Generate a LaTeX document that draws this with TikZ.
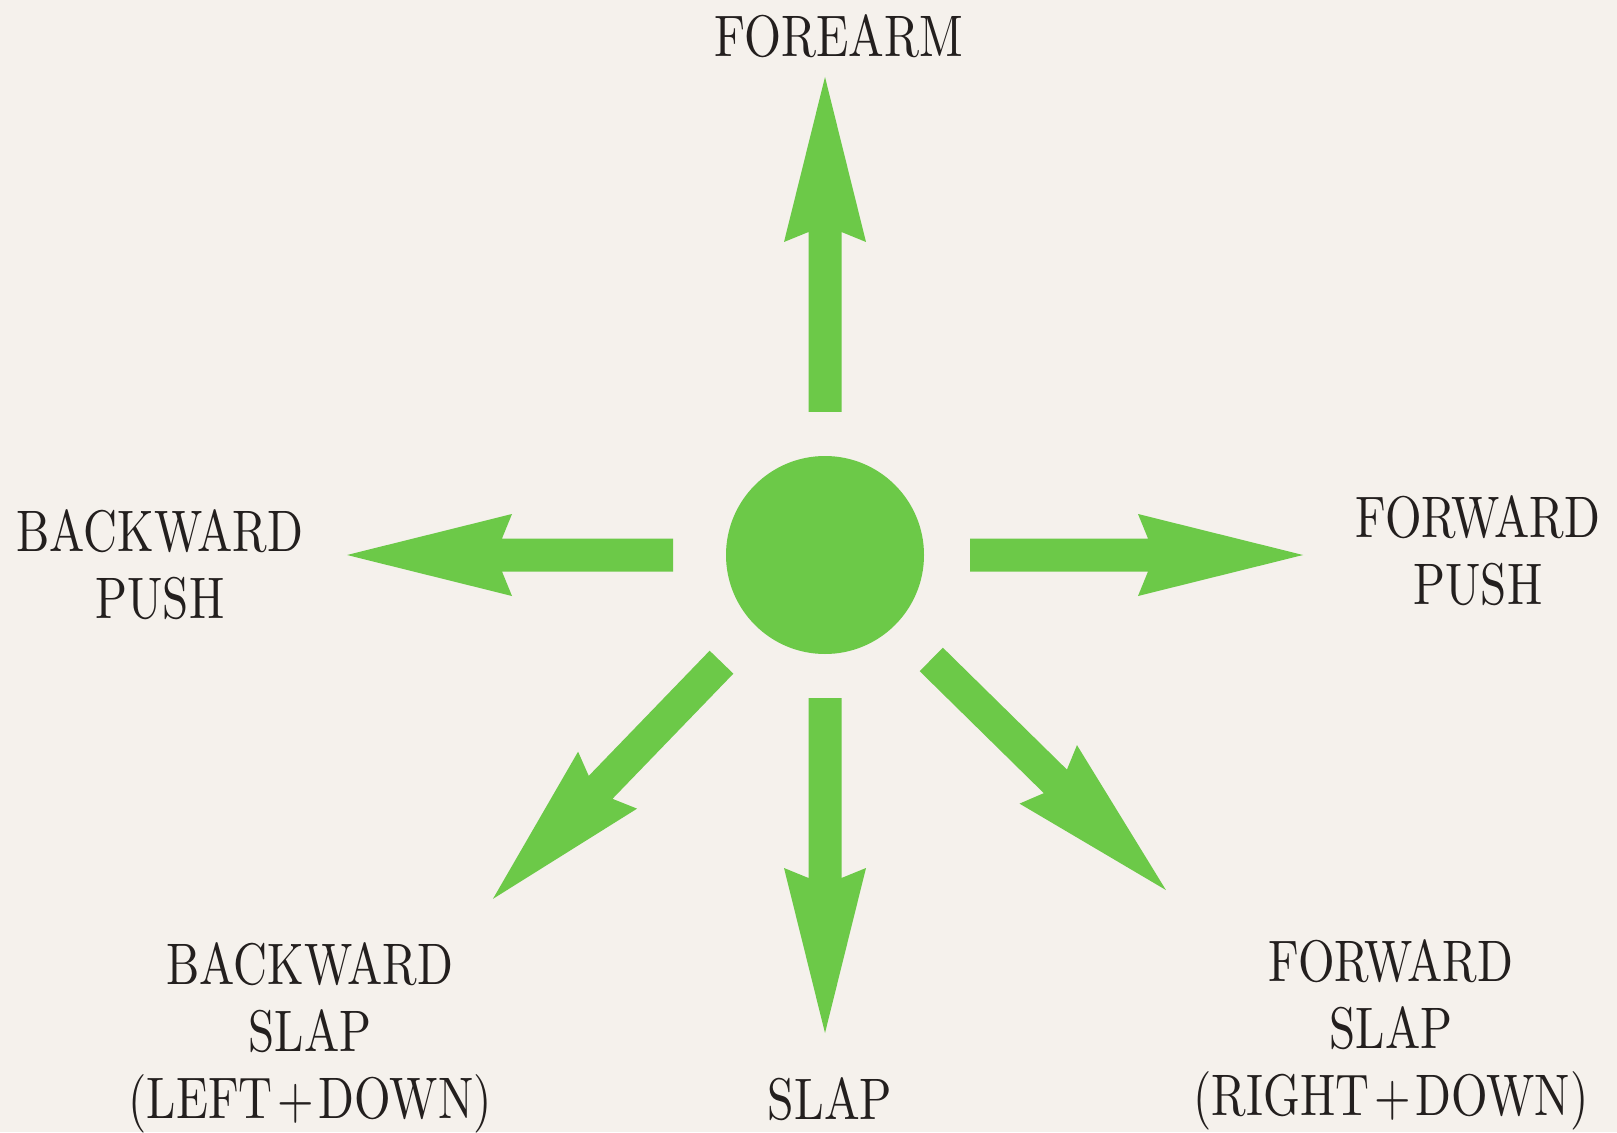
\documentclass[tikz,border=0pt]{standalone}
\usepackage{graphicx}
\definecolor{paper}{RGB}{245,241,236}
\definecolor{leaf}{RGB}{108,201,72}
\definecolor{ink}{RGB}{35,31,30}
\newcommand\lbltext[1]{\scalebox{2.35}[2.93]{\fontsize{10pt}{11.43pt}\selectfont\begin{tabular}[b]{@{}c@{}}#1\end{tabular}}}
\newcommand\onelbl[1]{\scalebox{2.38}[2.93]{\fontsize{10pt}{11.43pt}\selectfont #1}}
\newcommand\greenarrow[2]{%
  \begin{scope}[shift={(hub.center)}, rotate=#1]
    \fill[leaf] (#2,-16.5) -- (323,-16.5) -- (313,-41) -- (478,0) -- (313,41) -- (323,16.5) -- (#2,16.5) -- cycle;
  \end{scope}}
\begin{document}
\begin{tikzpicture}[x=0.5pt,y=0.5pt,
  lbl/.style={text=ink, inner sep=0pt, anchor=base}]
\fill[paper] (0,0) rectangle (1617,1132);
\useasboundingbox (0,0) rectangle (1617,1132);
\node[circle, fill=leaf, minimum size=99pt, inner sep=0pt] (hub) at (825,577) {};
\greenarrow{90}{143}
\greenarrow{0}{145}
\greenarrow{270}{143}
\greenarrow{180}{152}
\greenarrow{-44.5}{149}
\greenarrow{-134}{149}
\node[lbl] (forearm) at (839,1075) {\onelbl{FOREARM}};
\node[lbl] (bpush) at (160,514) {\lbltext{BACKWARD\\PUSH}};
\node[lbl] (fpush) at (1478,528) {\lbltext{FORWARD\\PUSH}};
\node[lbl] (bslap) at (310,14) {\lbltext{BACKWARD\\SLAP\\(LEFT\kern1pt+\kern1pt DOWN)}};
\node[lbl] (slap) at (830,13) {\onelbl{SLAP}};
\node[lbl] (fslap) at (1391,17) {\lbltext{FORWARD\\SLAP\\(RIGHT\kern1pt+\kern1pt DOWN)}};
\end{tikzpicture}
\end{document}
